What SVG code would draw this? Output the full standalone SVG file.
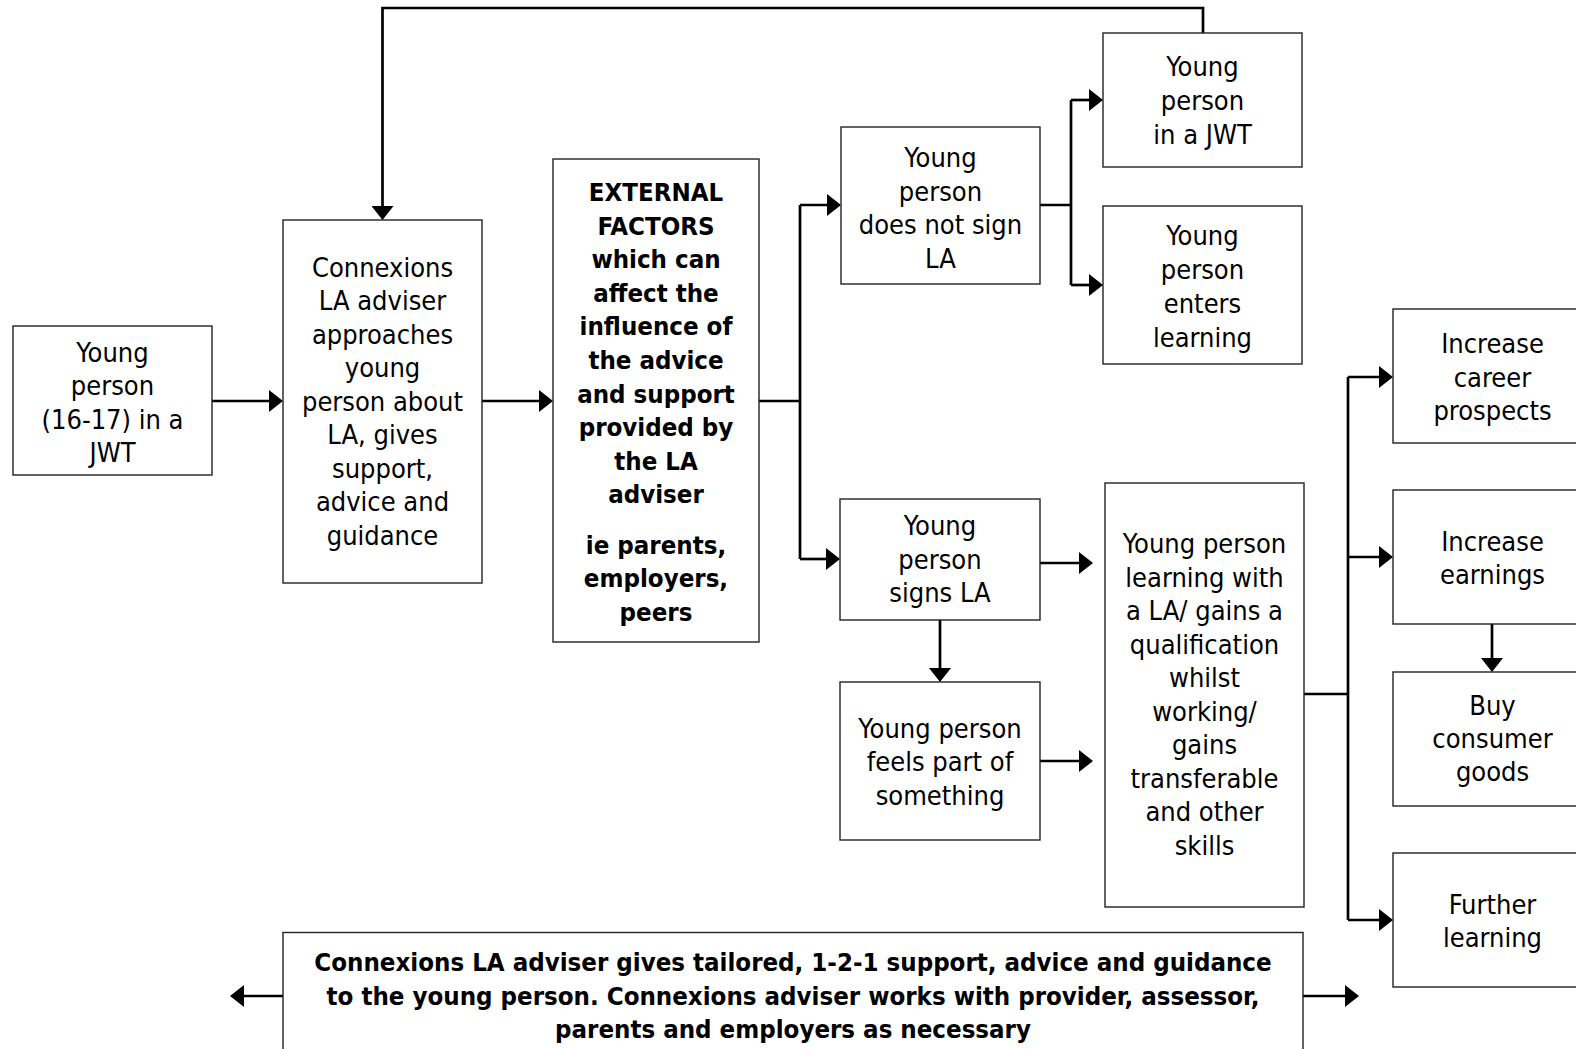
<svg xmlns="http://www.w3.org/2000/svg" width="1576" height="1049" viewBox="0 0 1576 1049">
<style>
.box{fill:#fff;stroke:#222;stroke-width:1.4}
.t{font-family:'DejaVu Sans Condensed','DejaVu Sans',sans-serif;font-stretch:condensed;font-size:27px;fill:#000;text-anchor:middle}
.b{font-family:'DejaVu Sans Condensed','DejaVu Sans',sans-serif;font-stretch:condensed;font-weight:bold;font-size:25.6px;fill:#000;text-anchor:middle}
.c{fill:none;stroke:#000;stroke-width:2.7}
.a{marker-end:url(#ah)}
</style>
<defs>
<marker id="ah" viewBox="0 0 14 22" refX="6" refY="11" markerWidth="14" markerHeight="22" markerUnits="userSpaceOnUse" orient="auto">
<path d="M0,0 L14,11 L0,22 Z" fill="#000"/>
</marker>
</defs>
<g id="connectors">
<path class="c a" d="M1203,33 V8 H382.5 V212"/>
<path class="c a" d="M212,401 H275"/>
<path class="c a" d="M482,401 H545"/>
<path class="c" d="M759,401 H800 M800,205 V559"/>
<path class="c a" d="M800,205 H833"/>
<path class="c a" d="M800,559 H832"/>
<path class="c" d="M1040,205 H1071 M1071,100 V285"/>
<path class="c a" d="M1071,100 H1095"/>
<path class="c a" d="M1071,285 H1095"/>
<path class="c a" d="M1040,563 H1085"/>
<path class="c a" d="M1040,761 H1085"/>
<path class="c a" d="M940,620 V674"/>
<path class="c" d="M1304,694 H1348 M1348,377 V920"/>
<path class="c a" d="M1348,377 H1385"/>
<path class="c a" d="M1348,557 H1385"/>
<path class="c a" d="M1348,920 H1385"/>
<path class="c a" d="M1492,624 V664"/>
<path class="c a" d="M283,996 H238"/>
<path class="c a" d="M1303,996 H1351"/>
</g>
<g id="n1"><rect class="box" x="13" y="326" width="199" height="149"/>
<text class="t"><tspan x="112.5" y="361.5">Young</tspan><tspan x="112.5" y="395">person</tspan><tspan x="112.5" y="428.5">(16-17) in a</tspan><tspan x="112.5" y="462">JWT</tspan></text></g>
<g id="n2"><rect class="box" x="283" y="220" width="199" height="363"/>
<text class="t"><tspan x="382.5" y="276.5">Connexions</tspan><tspan x="382.5" y="310">LA adviser</tspan><tspan x="382.5" y="343.5">approaches</tspan><tspan x="382.5" y="377">young</tspan><tspan x="382.5" y="410.5">person about</tspan><tspan x="382.5" y="444">LA, gives</tspan><tspan x="382.5" y="477.5">support,</tspan><tspan x="382.5" y="511">advice and</tspan><tspan x="382.5" y="544.5">guidance</tspan></text></g>
<g id="n3"><rect class="box" x="553" y="159" width="206" height="483"/>
<text class="b"><tspan x="656" y="201">EXTERNAL</tspan><tspan x="656" y="234.6">FACTORS</tspan><tspan x="656" y="268.2">which can</tspan><tspan x="656" y="301.8">affect the</tspan><tspan x="656" y="335.4">influence of</tspan><tspan x="656" y="369">the advice</tspan><tspan x="656" y="402.6">and support</tspan><tspan x="656" y="436.2">provided by</tspan><tspan x="656" y="469.8">the LA</tspan><tspan x="656" y="503.4">adviser</tspan><tspan x="656" y="553.5">ie parents,</tspan><tspan x="656" y="587.1">employers,</tspan><tspan x="656" y="620.7">peers</tspan></text></g>
<g id="n4"><rect class="box" x="841" y="127" width="199" height="157"/>
<text class="t"><tspan x="940.5" y="167">Young</tspan><tspan x="940.5" y="200.5">person</tspan><tspan x="940.5" y="234">does not sign</tspan><tspan x="940.5" y="267.5">LA</tspan></text></g>
<g id="n5"><rect class="box" x="840" y="499" width="200" height="121"/>
<text class="t"><tspan x="940" y="535">Young</tspan><tspan x="940" y="568.5">person</tspan><tspan x="940" y="602">signs LA</tspan></text></g>
<g id="n6"><rect class="box" x="1103" y="33" width="199" height="134"/>
<text class="t"><tspan x="1202.5" y="76">Young</tspan><tspan x="1202.5" y="110">person</tspan><tspan x="1202.5" y="144">in a JWT</tspan></text></g>
<g id="n7"><rect class="box" x="1103" y="206" width="199" height="158"/>
<text class="t"><tspan x="1202.5" y="244.5">Young</tspan><tspan x="1202.5" y="278.5">person</tspan><tspan x="1202.5" y="312.5">enters</tspan><tspan x="1202.5" y="346.5">learning</tspan></text></g>
<g id="n8"><rect class="box" x="840" y="682" width="200" height="158"/>
<text class="t"><tspan x="940" y="738">Young person</tspan><tspan x="940" y="771.3">feels part of</tspan><tspan x="940" y="804.6">something</tspan></text></g>
<g id="n9"><rect class="box" x="1105" y="483" width="199" height="424"/>
<text class="t"><tspan x="1204.5" y="553.3">Young person</tspan><tspan x="1204.5" y="586.8">learning with</tspan><tspan x="1204.5" y="620.3">a LA/ gains a</tspan><tspan x="1204.5" y="653.8">qualification</tspan><tspan x="1204.5" y="687.3">whilst</tspan><tspan x="1204.5" y="720.8">working/</tspan><tspan x="1204.5" y="754.3">gains</tspan><tspan x="1204.5" y="787.8">transferable</tspan><tspan x="1204.5" y="821.3">and other</tspan><tspan x="1204.5" y="854.8">skills</tspan></text></g>
<g id="n10"><rect class="box" x="1393" y="309" width="199" height="134"/>
<text class="t"><tspan x="1492.5" y="353">Increase</tspan><tspan x="1492.5" y="386.5">career</tspan><tspan x="1492.5" y="420">prospects</tspan></text></g>
<g id="n11"><rect class="box" x="1393" y="490" width="199" height="134"/>
<text class="t"><tspan x="1492.5" y="550.5">Increase</tspan><tspan x="1492.5" y="584">earnings</tspan></text></g>
<g id="n12"><rect class="box" x="1393" y="672" width="199" height="134"/>
<text class="t"><tspan x="1492.5" y="714.5">Buy</tspan><tspan x="1492.5" y="747.8">consumer</tspan><tspan x="1492.5" y="781">goods</tspan></text></g>
<g id="n13"><rect class="box" x="1393" y="853" width="199" height="134"/>
<text class="t"><tspan x="1492.5" y="914">Further</tspan><tspan x="1492.5" y="947">learning</tspan></text></g>
<g id="n14"><rect class="box" x="283" y="932.5" width="1020" height="130"/>
<text class="b"><tspan x="793" y="971">Connexions LA adviser gives tailored, 1-2-1 support, advice and guidance</tspan><tspan x="793" y="1004.5">to the young person. Connexions adviser works with provider, assessor,</tspan><tspan x="793" y="1038">parents and employers as necessary</tspan></text></g>
</svg>
